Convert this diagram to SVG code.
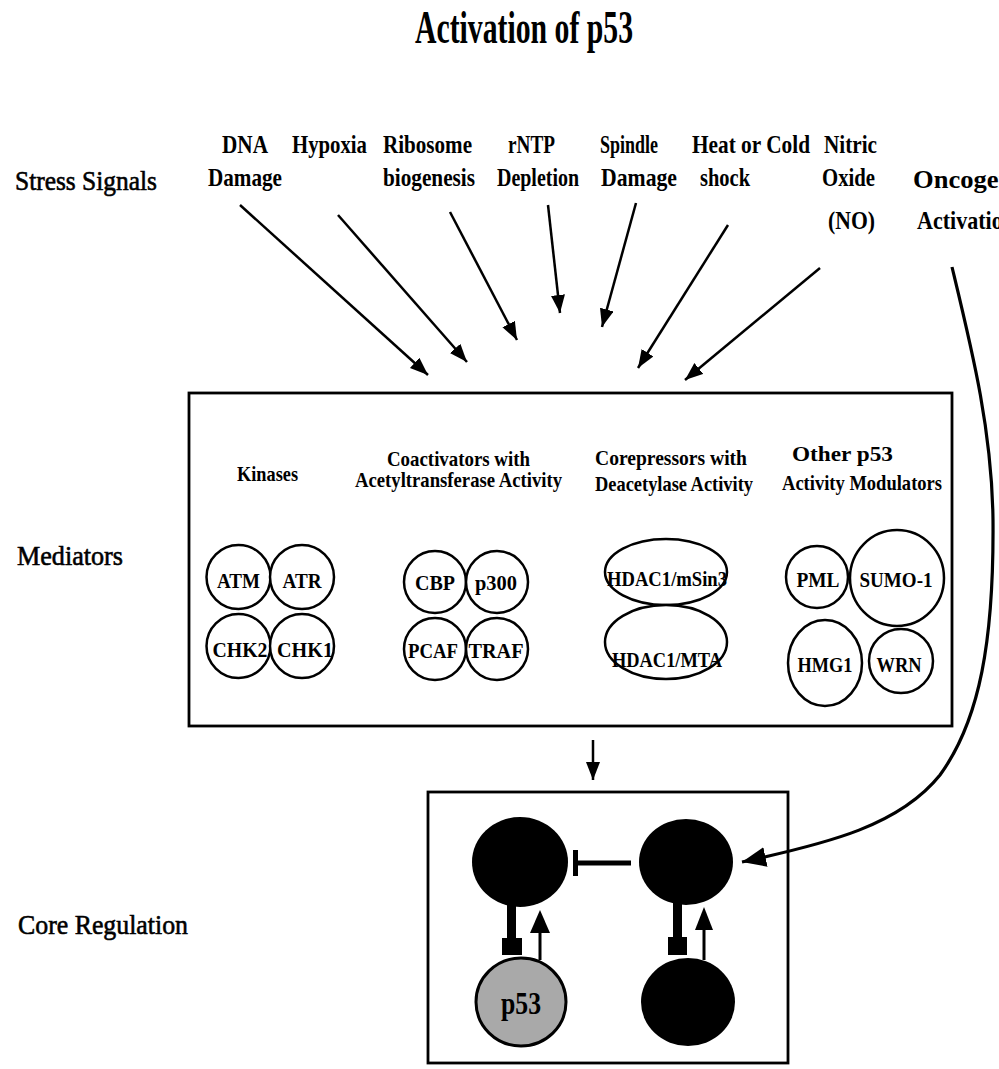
<svg xmlns="http://www.w3.org/2000/svg" width="999" height="1069" viewBox="0 0 999 1069">
<defs>
<style>
text{font-family:"Liberation Serif","Times New Roman",serif;font-weight:bold;fill:#000}
.title{font-size:46px}
.row{font-size:28px;font-weight:normal;stroke:#000;stroke-width:0.6}
.sig{font-size:26px}
.hdr{font-size:21px}
.nd{font-size:22px;text-anchor:middle}
.ring{fill:#fff;stroke:#000;stroke-width:2.5}
.box{fill:none;stroke:#000;stroke-width:2.8}
.arr{fill:none;stroke:#000;stroke-width:2.5;marker-end:url(#ah)}
.blk{fill:#000}
</style>
<marker id="ah" markerUnits="userSpaceOnUse" markerWidth="20" markerHeight="16" refX="18" refY="7" orient="auto">
<path d="M0,0 L18,7 L0,14 z" fill="#000"/>
</marker>
<marker id="ahb" markerUnits="userSpaceOnUse" markerWidth="26" markerHeight="22" refX="24" refY="10" orient="auto">
<path d="M0,0 L24,10 L0,20 z" fill="#000"/>
</marker>
</defs>

<rect width="999" height="1069" fill="#fff"/>

<text class="title" x="415" y="43" textLength="218" lengthAdjust="spacingAndGlyphs">Activation of p53</text>

<g id="row-labels">
<text class="row" x="15" y="190" textLength="142" lengthAdjust="spacingAndGlyphs">Stress Signals</text>
<text class="row" x="17" y="565" textLength="106" lengthAdjust="spacingAndGlyphs">Mediators</text>
<text class="row" x="18" y="934" textLength="170" lengthAdjust="spacingAndGlyphs">Core Regulation</text>
</g>

<g id="stress-signals">
<g id="sig-dna"><text class="sig" x="222" y="153" textLength="46" lengthAdjust="spacingAndGlyphs">DNA</text><text class="sig" x="208" y="186" textLength="74" lengthAdjust="spacingAndGlyphs">Damage</text></g>
<g id="sig-hypoxia"><text class="sig" x="292" y="153" textLength="75" lengthAdjust="spacingAndGlyphs">Hypoxia</text></g>
<g id="sig-ribosome"><text class="sig" x="383" y="153" textLength="89" lengthAdjust="spacingAndGlyphs">Ribosome</text><text class="sig" x="383" y="186" textLength="92" lengthAdjust="spacingAndGlyphs">biogenesis</text></g>
<g id="sig-rntp"><text class="sig" x="508" y="153" textLength="47" lengthAdjust="spacingAndGlyphs">rNTP</text><text class="sig" x="497" y="186" textLength="82" lengthAdjust="spacingAndGlyphs">Depletion</text></g>
<g id="sig-spindle"><text class="sig" x="600" y="153" textLength="58" lengthAdjust="spacingAndGlyphs">Spindle</text><text class="sig" x="601" y="186" textLength="76" lengthAdjust="spacingAndGlyphs">Damage</text></g>
<g id="sig-heat"><text class="sig" x="692" y="153" textLength="118" lengthAdjust="spacingAndGlyphs">Heat or Cold</text><text class="sig" x="700" y="186" textLength="50" lengthAdjust="spacingAndGlyphs">shock</text></g>
<g id="sig-no"><text class="sig" x="824" y="153" textLength="53" lengthAdjust="spacingAndGlyphs">Nitric</text><text class="sig" x="822" y="186" textLength="53" lengthAdjust="spacingAndGlyphs">Oxide</text><text class="sig" x="828" y="229" textLength="47" lengthAdjust="spacingAndGlyphs">(NO)</text></g>
<g id="sig-oncogene"><text class="sig" x="913" y="188" textLength="112" lengthAdjust="spacingAndGlyphs">Oncogene</text><text class="sig" x="917" y="229" textLength="98" lengthAdjust="spacingAndGlyphs">Activation</text></g>
</g>

<g id="mediators">
<rect class="box" x="189" y="393" width="763" height="333"/>
<g id="kinases">
<text class="hdr" x="237" y="481" textLength="61" lengthAdjust="spacingAndGlyphs">Kinases</text>
<g id="n-atm"><circle class="ring" cx="238.5" cy="577" r="32"/><text class="nd" x="238.5" y="588" textLength="43" lengthAdjust="spacingAndGlyphs">ATM</text></g>
<g id="n-atr"><circle class="ring" cx="302" cy="577" r="32"/><text class="nd" x="302" y="588" textLength="39" lengthAdjust="spacingAndGlyphs">ATR</text></g>
<g id="n-chk2"><circle class="ring" cx="238.5" cy="646" r="32"/><text class="nd" x="240" y="657" textLength="55" lengthAdjust="spacingAndGlyphs">CHK2</text></g>
<g id="n-chk1"><circle class="ring" cx="302" cy="646" r="32"/><text class="nd" x="305" y="657" textLength="56" lengthAdjust="spacingAndGlyphs">CHK1</text></g>
</g>
<g id="coactivators">
<text class="hdr" x="387" y="466" textLength="143" lengthAdjust="spacingAndGlyphs">Coactivators with</text>
<text class="hdr" x="355" y="487" textLength="207" lengthAdjust="spacingAndGlyphs">Acetyltransferase Activity</text>
<g id="n-cbp"><circle class="ring" cx="435" cy="582" r="31"/><text class="nd" x="435" y="590" textLength="40" lengthAdjust="spacingAndGlyphs">CBP</text></g>
<g id="n-p300"><circle class="ring" cx="497" cy="582" r="31"/><text class="nd" x="496" y="590" textLength="42" lengthAdjust="spacingAndGlyphs">p300</text></g>
<g id="n-pcaf"><circle class="ring" cx="435" cy="649" r="31"/><text class="nd" x="433" y="658" textLength="50" lengthAdjust="spacingAndGlyphs">PCAF</text></g>
<g id="n-traf"><circle class="ring" cx="497" cy="649" r="31"/><text class="nd" x="496" y="658" textLength="55" lengthAdjust="spacingAndGlyphs">TRAF</text></g>
</g>
<g id="corepressors">
<text class="hdr" x="595" y="465" textLength="152" lengthAdjust="spacingAndGlyphs">Corepressors with</text>
<text class="hdr" x="595" y="491" textLength="158" lengthAdjust="spacingAndGlyphs">Deacetylase Activity</text>
<g id="n-hdac-msin3"><ellipse class="ring" cx="666" cy="572" rx="61" ry="33"/><text class="nd" x="667" y="586" textLength="120" lengthAdjust="spacingAndGlyphs">HDAC1/mSin3</text></g>
<g id="n-hdac-mta"><ellipse class="ring" cx="666" cy="642" rx="61" ry="37"/><text class="nd" x="667" y="667" textLength="110" lengthAdjust="spacingAndGlyphs">HDAC1/MTA</text></g>
</g>
<g id="other-modulators">
<text class="hdr" x="792" y="461" textLength="101" lengthAdjust="spacingAndGlyphs">Other p53</text>
<text class="hdr" x="782" y="490" textLength="160" lengthAdjust="spacingAndGlyphs">Activity Modulators</text>
<g id="n-pml"><circle class="ring" cx="817" cy="577" r="31"/><text class="nd" x="818" y="587" textLength="43" lengthAdjust="spacingAndGlyphs">PML</text></g>
<g id="n-sumo1"><ellipse class="ring" cx="897" cy="578" rx="47" ry="48"/><text class="nd" x="896" y="587" textLength="73" lengthAdjust="spacingAndGlyphs">SUMO-1</text></g>
<g id="n-hmg1"><ellipse class="ring" cx="825" cy="663" rx="37" ry="43"/><text class="nd" x="825" y="672" textLength="55" lengthAdjust="spacingAndGlyphs">HMG1</text></g>
<g id="n-wrn"><circle class="ring" cx="901" cy="661" r="32"/><text class="nd" x="899" y="672" textLength="45" lengthAdjust="spacingAndGlyphs">WRN</text></g>
</g>
</g>

<g id="core-regulation">
<rect class="box" x="428" y="792" width="360" height="271"/>
<g id="core-tl"><ellipse class="blk" cx="520" cy="862" rx="48" ry="45"/></g>
<g id="core-tr"><ellipse class="blk" cx="686" cy="862" rx="47" ry="43"/></g>
<g id="core-p53"><ellipse cx="521" cy="1002" rx="45" ry="44" fill="#a9a9a9" stroke="#000" stroke-width="3"/><text x="521" y="1014" font-size="32" text-anchor="middle" fill="#1a1a1a" textLength="40" lengthAdjust="spacingAndGlyphs">p53</text></g>
<g id="core-br"><ellipse class="blk" cx="688" cy="1002" rx="47" ry="44"/></g>
</g>

<g id="connectors">
<line class="arr" x1="240" y1="205" x2="428" y2="375"/>
<line class="arr" x1="338" y1="215" x2="467" y2="362"/>
<line class="arr" x1="450" y1="212" x2="517" y2="340"/>
<line class="arr" x1="548" y1="205" x2="560" y2="313"/>
<line class="arr" x1="636" y1="203" x2="602" y2="327"/>
<line class="arr" x1="728" y1="225" x2="638" y2="368"/>
<line class="arr" x1="820" y1="268" x2="685" y2="380"/>
<line class="arr" x1="593" y1="740" x2="593" y2="780" stroke-width="2"/>
<path d="M952,267 C972,350 992,430 993,520 C994,640 980,720 940,775 C900,825 830,843 742,862" fill="none" stroke="#000" stroke-width="3.2" marker-end="url(#ahb)"/>
<line x1="631" y1="863" x2="577" y2="863" stroke="#000" stroke-width="5"/>
<rect x="573" y="850" width="5" height="26" fill="#000"/>
<rect x="507" y="904" width="9" height="36" fill="#000"/>
<rect x="502" y="938" width="20" height="17" fill="#000"/>
<line x1="540" y1="960" x2="540" y2="930" stroke="#000" stroke-width="3"/>
<path d="M530,933 L540,910 L550,933 z" fill="#000"/>
<rect x="673" y="903" width="9" height="37" fill="#000"/>
<rect x="668" y="937" width="19" height="18" fill="#000"/>
<line x1="704" y1="960" x2="704" y2="928" stroke="#000" stroke-width="3"/>
<path d="M695,930 L704,907 L713,930 z" fill="#000"/>
</g>
</svg>
